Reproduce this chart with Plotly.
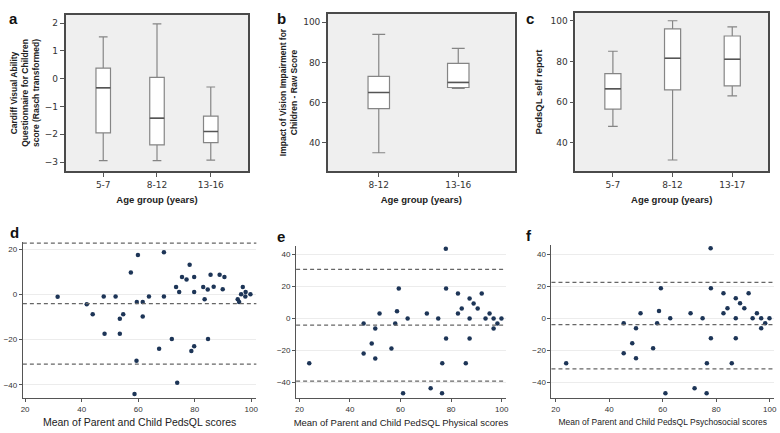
import plotly.graph_objects as go

# top row: box plots (summary values)
a_groups = ['5-7', '8-12', '13-16']
a_low = [-2.95, -2.95, -2.93]
a_q1 = [-1.95, -2.38, -2.3]
a_med = [-0.33, -1.42, -1.9]
a_q3 = [0.38, 0.05, -1.35]
a_high = [1.5, 1.97, -0.3]

b_groups = ['8-12', '13-16']
b_low = [35, 67]
b_q1 = [57, 67.5]
b_med = [65, 70]
b_q3 = [73, 79.5]
b_high = [94, 87]

c_groups = ['5-7', '8-12', '13-17']
c_low = [48, 31.5, 63]
c_q1 = [56.5, 66, 68]
c_med = [66.5, 81.5, 81]
c_q3 = [74, 96, 92.5]
c_high = [85, 100, 97]

# bottom row: Bland-Altman scatter
d_mean = [31.5, 41.8, 43.9, 47.8, 48.1, 52.0, 53.5, 54.7, 53.5, 57.4, 59.9, 59.5,
          61.6, 61.6, 63.8, 59.4, 58.7, 67.4, 69.1, 69.1, 71.9, 73.4, 74.5, 73.8,
          75.5, 77.1, 78.2, 79.8, 79.8, 79.8, 78.8, 83.0, 83.5, 84.6, 84.7, 85.6,
          86.7, 88.8, 89.9, 90.5, 95.2, 95.7, 96.4, 97.0, 98.0, 97.9, 99.7]
d_diff = [-1, -4.3, -8.7, -0.9, -17.4, -0.9, -10.8, -8.7, -17.4, 9.8, 17.5, -3.3,
          -3.3, -9.8, -0.9, -29.4, -44.1, -24.1, 18.7, -0.9, -19.7, 3.3, 1.1, -39.1,
          7.8, 6.7, 13.2, 7.8, 1.1, -22.9, -25.1, 3.3, -2.1, 2.2, -19.7, 8.8,
          3.5, 8.8, 2.3, 7.8, -2.1, -3.3, 0.1, 3.3, 1.1, -0.9, 0.1]
d_lines = [22.8, -4.0, -30.9]

e_mean = [23.9, 45.4, 45.4, 48.6, 50.0, 50.0, 51.7, 56.4, 57.9, 58.6, 59.3, 61.0,
          62.8, 70.4, 71.9, 74.9, 76.5, 76.4, 77.9, 78.0, 78.0, 82.7, 82.7, 84.2,
          85.8, 87.3, 87.3, 87.3, 88.9, 90.5, 92.1, 93.6, 95.2, 96.8, 96.8, 98.3, 99.9]
e_diff = [-28.1, -3.1, -21.9, -15.6, -6.25, -25, 3.1, -18.75, -3.1, 4.5, 18.75, -46.9,
          0, 3.1, -43.75, 0, -28.1, -46.9, 43.75, 18.75, -12.5, 15.6, 3.1, 6.25,
          -28.1, 12.5, 0, -12.5, 9.4, 6.25, 15.6, 0, 3.1, 0, -6.25, -3.1, 0]
e_lines = [30.8, -4.1, -39.2]

f_mean = e_mean
f_diff = e_diff
f_lines = [22.5, -3.9, -31.6]

W, H = 780, 433


def px_x(a, b):
    return [a / W, b / W]


def px_y(top, bottom):
    return [1 - bottom / H, 1 - top / H]


fig = go.Figure()

box_line = '#858585'
for i, (g, lo, q1, md, q3, hi) in enumerate([
        (a_groups, a_low, a_q1, a_med, a_q3, a_high),
        (b_groups, b_low, b_q1, b_med, b_q3, b_high),
        (c_groups, c_low, c_q1, c_med, c_q3, c_high)]):
    ax = '' if i == 0 else str(i + 1)
    fig.add_trace(go.Box(
        x=g, q1=q1, median=md, q3=q3, lowerfence=lo, upperfence=hi,
        fillcolor='white', line=dict(color=box_line, width=1.2),
        whiskerwidth=0.6, width=0.27, boxpoints=False, showlegend=False,
        xaxis='x' + ax, yaxis='y' + ax))

for i, (xs, ys, lines) in enumerate([(d_mean, d_diff, d_lines),
                                     (e_mean, e_diff, e_lines),
                                     (f_mean, f_diff, f_lines)]):
    ax = str(i + 4)
    fig.add_trace(go.Scatter(
        x=xs, y=ys, mode='markers',
        marker=dict(color='#1d3557', size=4.5),
        showlegend=False, xaxis='x' + ax, yaxis='y' + ax))
    for v in lines:
        fig.add_shape(type='line', xref='x' + ax + ' domain', yref='y' + ax,
                      x0=0, x1=1, y0=v, y1=v,
                      line=dict(color='#666666', width=1.2, dash='4px,3px'))

top_font = dict(family='DejaVu Sans', size=9, color='#333')
title_font = dict(family='Liberation Sans', size=9.5, color='#222')
bot_font = dict(family='Liberation Sans', size=8, color='#333')

top_axis = dict(showline=True, mirror=True, linecolor='#4a4a4a', linewidth=1.5,
                ticks='outside', ticklen=4, tickcolor='#555', showgrid=False,
                zeroline=False, tickfont=top_font)
bot_x = dict(showline=True, linecolor='#555', linewidth=1, ticks='outside',
             ticklen=3, tickcolor='#555', showgrid=False, zeroline=False,
             tickfont=bot_font, tickvals=[20, 40, 60, 80, 100])
bot_y = dict(showline=True, linecolor='#555', linewidth=1, ticks='outside',
             ticklen=3, tickcolor='#555', showgrid=True, gridcolor='#ececec',
             zeroline=False, tickfont=bot_font)

fig.update_layout(
    width=W, height=H, margin=dict(l=0, r=0, t=0, b=0),
    paper_bgcolor='white', plot_bgcolor='white',
    xaxis=dict(top_axis, anchor='y', domain=px_x(64, 248), range=[-0.7, 2.7],
               title=dict(text='<b>Age group (years)</b>', font=title_font, standoff=8)),
    yaxis=dict(top_axis, anchor='x', domain=px_y(15, 171), range=[-3.32, 2.29],
               tickvals=[-3, -2, -1, 0, 1, 2],
               title=dict(text='<b>Cardiff Visual Ability<br>Questionnaire for Children<br>score (Rasch transformed)</b>',
                          font=dict(family='Liberation Sans', size=8.5, color='#222'), standoff=4)),
    xaxis2=dict(top_axis, anchor='y2', domain=px_x(328, 516), range=[-0.64, 1.71],
                title=dict(text='<b>Age group (years)</b>', font=title_font, standoff=8)),
    yaxis2=dict(top_axis, anchor='x2', domain=px_y(14, 171), range=[25.9, 104.1],
                tickvals=[40, 60, 80, 100],
                title=dict(text='<b>Impact of Vision Impairment for<br>Children - Raw Score</b>',
                           font=dict(family='Liberation Sans', size=8.5, color='#222'), standoff=4)),
    xaxis3=dict(top_axis, anchor='y3', domain=px_x(577, 771), range=[-0.63, 2.6],
                title=dict(text='<b>Age group (years)</b>', font=title_font, standoff=8)),
    yaxis3=dict(top_axis, anchor='x3', domain=px_y(13, 171), range=[26.1, 103.8],
                tickvals=[40, 60, 80, 100],
                title=dict(text='<b>PedsQL self report</b>',
                           font=dict(family='Liberation Sans', size=9.5, color='#222'), standoff=6)),
    xaxis4=dict(bot_x, anchor='y4', domain=px_x(21, 256), range=[19.2, 101.8],
                title=dict(text='Mean of Parent and Child PedsQL scores',
                           font=dict(family='Liberation Sans', size=10.5, color='#222'), standoff=6)),
    yaxis4=dict(bot_y, anchor='x4', domain=px_y(242, 398), range=[-45.9, 23.3],
                tickvals=[-40, -20, 0, 20]),
    xaxis5=dict(bot_x, anchor='y5', domain=px_x(296, 507), range=[18.7, 101.6],
                title=dict(text='Mean of Parent and Child PedSQL Physical scores',
                           font=dict(family='Liberation Sans', size=9.5, color='#222'), standoff=6)),
    yaxis5=dict(bot_y, anchor='x5', domain=px_y(246, 398), range=[-49.8, 45.4],
                tickvals=[-40, -20, 0, 20, 40]),
    xaxis6=dict(bot_x, anchor='y6', domain=px_x(553, 777), range=[18.4, 101.6],
                title=dict(text='Mean of Parent and Child PedsQL Psychosocial scores',
                           font=dict(family='Liberation Sans', size=8.5, color='#222'), standoff=6)),
    yaxis6=dict(bot_y, anchor='x6', domain=px_y(245, 398), range=[-49.8, 45.8],
                tickvals=[-40, -20, 0, 20, 40]),
)

# grey plot background for the top row
for ax in ['x', 'x2', 'x3']:
    yref = 'y' + ax[1:]
    fig.add_shape(type='rect', xref=ax + ' domain', yref=yref + ' domain',
                  x0=0, x1=1, y0=0, y1=1, fillcolor='#efefef',
                  line=dict(width=0), layer='below')

# darker median marks like the SPSS output
for i, (g, md) in enumerate([(a_groups, a_med), (b_groups, b_med), (c_groups, c_med)]):
    ax = '' if i == 0 else str(i + 1)
    for j, m in enumerate(md):
        fig.add_shape(type='line', xref='x' + ax, yref='y' + ax,
                      x0=j - 0.135, x1=j + 0.135, y0=m, y1=m,
                      line=dict(color='#555555', width=1.5))

for letter, x, y in [('a', 5, 8), ('b', 281, 8), ('c', 537, 8),
                     ('d', 6, 233), ('e', 281, 236), ('f', 535, 235)]:
    fig.add_annotation(text='<b>' + letter + '</b>', xref='paper', yref='paper',
                       x=x / W, y=1 - y / H, showarrow=False,
                       font=dict(family='Liberation Sans', size=15, color='#111'))

fig.write_html('out.html', config={'displayModeBar': False},
               post_script="document.body.style.margin='0';")
